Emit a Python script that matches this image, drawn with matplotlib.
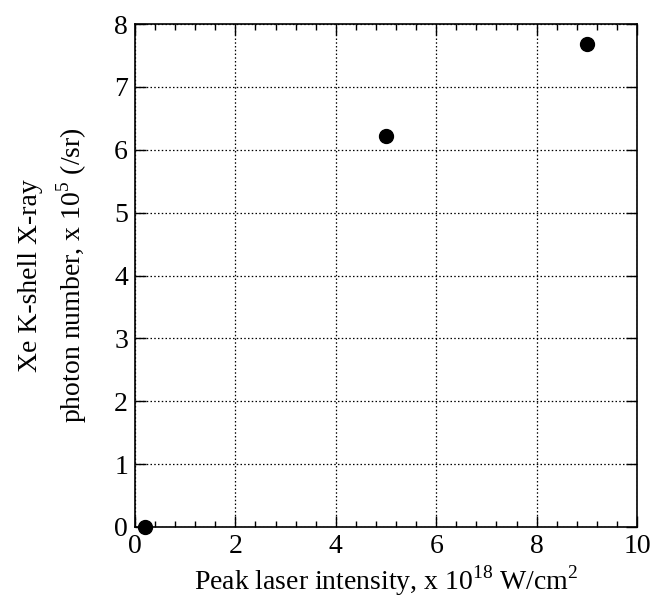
import numpy as np
import matplotlib
matplotlib.use("Agg")
import matplotlib.pyplot as plt
from matplotlib.ticker import MultipleLocator

plt.rcParams['font.family'] = ['Liberation Serif', 'DejaVu Serif']
plt.rcParams['mathtext.fontset'] = 'custom'
plt.rcParams['mathtext.rm'] = 'Liberation Serif'

# Peak intensity (1e18 W/cm2) and Xe K-shell photon yield (1e5 /sr)
intensity = [0.2, 5.0, 9.0]
photons = [0.0, 6.22, 7.68]

fig = plt.figure(figsize=(6.54, 6.0), dpi=100)
ax = fig.add_axes([135 / 654, 1 - 527 / 600, 502 / 654, 503 / 600])

ax.plot(intensity, photons, 'o', color='black', markersize=10, clip_on=False, zorder=5)

ax.set_xlim(0, 10)
ax.set_ylim(0, 8)
ax.xaxis.set_major_locator(MultipleLocator(2))
ax.xaxis.set_minor_locator(MultipleLocator(0.4))
ax.yaxis.set_major_locator(MultipleLocator(1))
ax.tick_params(which='both', direction='in', top=True, right=True, labelsize=20, width=1.0)
ax.tick_params(which='major', length=8, pad=5)
ax.tick_params(which='minor', length=4)
ax.grid(True, which='major', linestyle=(0, (1.2, 1.8)), color='black', linewidth=0.9)
for s in ax.spines.values():
    s.set_linewidth(1.2)

ax.set_xlabel(r"Peak laser intensity, x 10$^{18}$ W/cm$^2$", fontsize=20, labelpad=3)
ax.set_ylabel("Xe K-shell X-ray\n" + r"photon number, x 10$^{5}$ (/sr)", fontsize=20,
              labelpad=18, linespacing=1.45)

fig.savefig("out.png", dpi=100)
